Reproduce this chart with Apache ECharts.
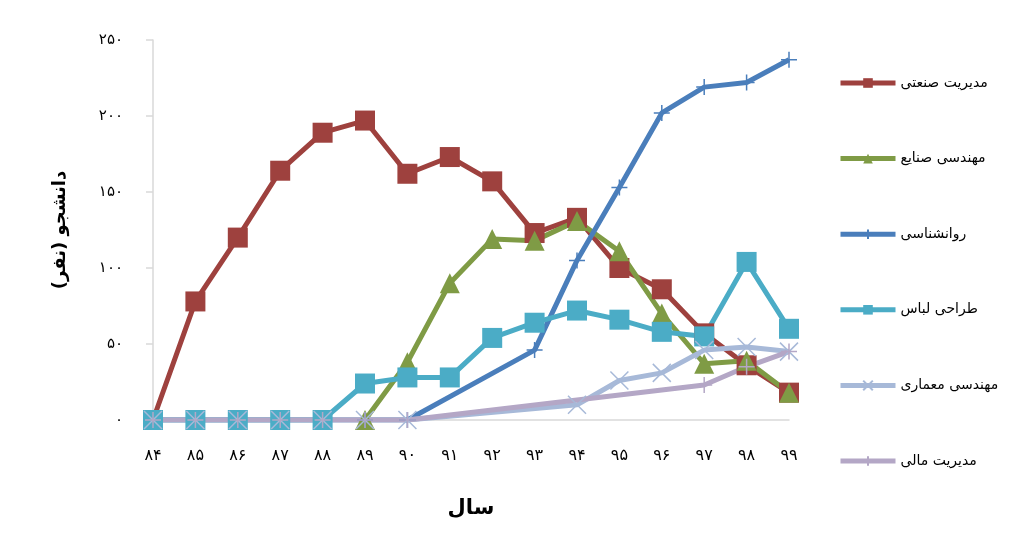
<!DOCTYPE html>
<html>
<head>
<meta charset="utf-8">
<script src="https://cdn.jsdelivr.net/npm/echarts@6/dist/echarts.min.js"></script>
<style>
    html, body { margin: 0; padding: 0; background: #fff; }
    #myChart { width: 1013px; height: 549px; }
</style>
</head>
<body>
<div id="myChart"></div>
<script>
// years 84..99 (Persian digits)
var years = ["۸۴", "۸۵", "۸۶", "۸۷", "۸۸", "۸۹", "۹۰", "۹۱", "۹۲", "۹۳", "۹۴", "۹۵", "۹۶", "۹۷", "۹۸", "۹۹"];
var yTickLabels = ["۰", "۵۰", "۱۰۰", "۱۵۰", "۲۰۰", "۲۵۰"];

var names = ["مدیریت صنعتی", "مهندسی صنایع", "روانشناسی", "طراحی لباس", "مهندسی معماری", "مدیریت مالی"];

var industrialMgmt = [0, 78, 120, 164, 189, 197, 162, 173, 157, 123, 133, 100, 86, 57, 36, 18];
var industrialEng = [null, null, null, null, null, 0, 38, 90, 119, 118, 131, 111, 70, 37, 39, 18];
var psychology = [0, 0, 0, 0, 0, 0, 0, null, null, 46, 105, 153, 202, 219, 222, 237];
var fashion = [0, 0, 0, 0, 0, 24, 28, 28, 54, 64, 72, 66, 58, 55, 104, 60];
var architecture = [0, 0, 0, 0, 0, 0, 0, null, null, null, 10, 26, 31, 46, 48, 45];
var finance = [0, 0, 0, 0, 0, 0, 0, null, null, null, null, null, null, 23, 35, 45];

var plusPath = "path://M5,0L5,10M0,5L10,5";
var xPath = "path://M0,0L10,10M10,0L0,10";

var font = "'DejaVu Sans', sans-serif";

function makeSeries(name, data, color, symbol, size, stroke) {
    var s = {
        name: name,
        type: "line",
        data: data,
        connectNulls: true,
        symbol: symbol,
        symbolSize: size,
        showAllSymbol: true,
        lineStyle: { color: color, width: 5 },
        itemStyle: { color: color },
    };
    if (stroke) {
        s.itemStyle.borderColor = color;
        s.itemStyle.borderWidth = 1.5;
    }
    return s;
}

var myChart = echarts.init(document.getElementById("myChart"));
var option = {
    animation: false,
    textStyle: { fontFamily: font },
    legend: {
        orient: "vertical",
        left: 838,
        top: 76,
        padding: 0,
        itemWidth: 55,
        itemHeight: 12,
        itemGap: 61.6,
        lineStyle: { width: 5 },
        textStyle: { fontSize: 14, color: "#000", fontFamily: font },
        data: names,
    },
    grid: { left: 153, right: 224, top: 40, bottom: 129 },
    xAxis: {
        type: "category",
        data: years,
        boundaryGap: false,
        axisLine: { lineStyle: { color: "#d9d9d9", width: 1.5 } },
        axisTick: { show: false },
        axisLabel: { color: "#000", fontSize: 16, margin: 28, fontFamily: font },
        name: "سال",
        nameLocation: "middle",
        nameGap: 78,
        nameTextStyle: { color: "#000", fontSize: 21, fontWeight: "bold", fontFamily: font },
    },
    yAxis: {
        type: "value",
        min: 0,
        max: 250,
        interval: 50,
        splitLine: { show: false },
        axisLine: { show: true, lineStyle: { color: "#d9d9d9", width: 1.5 } },
        axisTick: { show: true, length: 7, lineStyle: { color: "#d9d9d9", width: 1.5 } },
        axisLabel: {
            color: "#000",
            fontSize: 15,
            margin: 30,
            fontFamily: font,
            formatter: function (v) { return yTickLabels[Math.round(v / 50)]; },
        },
        name: "\u200Fدانشجو (نفر)\u200F",
        nameLocation: "middle",
        nameGap: 84,
        nameTextStyle: { color: "#000", fontSize: 18, fontWeight: "bold", fontFamily: font },
    },
    series: [
        makeSeries(names[0], industrialMgmt, "#9e413e", "rect", 20),
        makeSeries(names[1], industrialEng, "#7f9b45", "triangle", 20),
        makeSeries(names[2], psychology, "#4a7ebb", plusPath, 16, true),
        makeSeries(names[3], fashion, "#4bacc6", "rect", 20),
        makeSeries(names[4], architecture, "#a7b9d8", xPath, 18, true),
        makeSeries(names[5], finance, "#b4a7c6", plusPath, 16, true),
    ],
};
myChart.setOption(option);
</script>
</body>
</html>
